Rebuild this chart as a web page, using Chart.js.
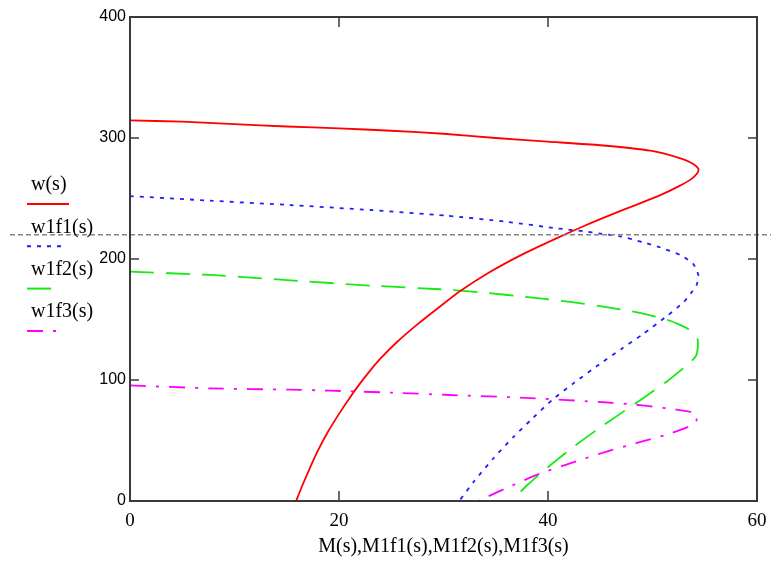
<!DOCTYPE html>
<html>
<head>
<meta charset="utf-8">
<script src="https://cdn.jsdelivr.net/npm/chart.js@4"></script>
<style>
  html, body { margin: 0; padding: 0; background: #fff; }
  #chart { display: block; }
</style>
</head>
<body>
<canvas id="chart" width="771" height="563"></canvas>
<script>
const seriesNames = ["w(s)", "w1f1(s)", "w1f2(s)", "w1f3(s)"];
const axisTitleX = "M(s),M1f1(s),M1f2(s),M1f3(s)";
const xTicks = [0, 20, 40, 60];
const yTicks = [0, 100, 200, 300, 400];
const markerW = 220;

// w(s) vs M(s)
const wM = [0, 5, 10, 15, 20, 25, 30, 35, 40, 45, 49.8, 52.9, 53.9, 54.4, 54.3, 53.7, 52.5, 50.8, 48.5, 46, 43.5, 40.8, 37.6, 34.4, 31.6, 29.7, 27.5, 25.5, 24, 23, 22, 21, 20, 19, 18, 17.2, 16.5, 15.9];
const wW = [314.5, 313.5, 311.5, 309.5, 308, 306, 303.5, 300, 297, 294, 289.5, 282.6, 278.5, 274.4, 271, 266, 260, 253, 245, 236.5, 227.5, 217, 204, 189, 173.5, 161, 146, 131, 118, 108, 97, 85, 72, 58, 42, 27, 13, 0];

// w1f1(s) vs M1f1(s)
const f1M = [0, 7.7, 15.3, 23, 30.3, 36, 40.8, 43.4, 45, 46.9, 49.1, 50.7, 52.8, 53.9, 54.4, 54.2, 53.7, 53, 51.4, 49.1, 47, 45, 42.4, 40.4, 38.6, 36.7, 34.8, 32.9, 31.5];
const f1W = [252, 248.2, 244.6, 240.5, 235.8, 230.8, 225.4, 222.9, 220.9, 218.7, 213.8, 209.7, 202.7, 195.9, 186.2, 178, 172, 164.5, 153, 138, 125.5, 113.5, 97, 83.5, 69, 53, 35.5, 16, 0];

// w1f2(s) vs M1f2(s)
const f2M = [0, 7.7, 16, 23, 29.7, 33.5, 38.3, 42.1, 45, 48.2, 51.4, 53.3, 54.3, 54.3, 54.1, 53.2, 51.4, 49.1, 46.9, 44.7, 42.4, 40, 38, 36.5];
const f2W = [189.5, 186.8, 182, 178, 175, 172.5, 168.3, 164.5, 161, 156.5, 149.8, 142.7, 133.9, 124.2, 119, 111.5, 99, 85, 72, 59, 44.5, 28, 13, 0];

// w1f3(s) vs M1f3(s)
const f3M = [0, 7.7, 15.3, 19.1, 25.8, 30.6, 38.3, 45.3, 48.8, 52.3, 54.1, 54.2, 53.6, 51.4, 48.5, 45.3, 42.4, 39.2, 36.5, 33.3];
const f3W = [95.5, 93.1, 92, 91.2, 89.3, 87.6, 85.1, 81.6, 79.3, 75.5, 72.7, 66.4, 62, 55, 48, 40, 32, 22.5, 12.5, 0];

const toPoints = (ms, ws) => ms.map((m, i) => ({ x: m, y: ws[i] }));

const styles = [
    { color: "rgb(255,0,0)", dash: [] },
    { color: "rgb(30,30,255)", dash: [4, 6] },
    { color: "rgb(20,235,20)", dash: [24, 12] },
    { color: "rgb(255,0,255)", dash: [16, 10, 3, 10] }
];

const seriesData = [toPoints(wM, wW), toPoints(f1M, f1W), toPoints(f2M, f2W), toPoints(f3M, f3W)];

const datasets = seriesData.map((pts, i) => ({
    label: seriesNames[i],
    data: pts,
    showLine: true,
    borderColor: styles[i].color,
    borderDash: styles[i].dash,
    borderWidth: 1.8,
    pointRadius: 0,
    tension: 0.2,
    fill: false
}));

const framePlugin = {
    id: "frame",
    afterDatasetsDraw(chart) {
        const { ctx, chartArea: a, scales: { x, y } } = chart;
        ctx.save();

        // horizontal marker line, runs across the whole picture
        const my = y.getPixelForValue(markerW);
        ctx.strokeStyle = "#858585";
        ctx.lineWidth = 1.5;
        ctx.setLineDash([5, 3]);
        ctx.beginPath();
        ctx.moveTo(10, my);
        ctx.lineTo(chart.width, my);
        ctx.stroke();
        ctx.setLineDash([]);

        // box
        ctx.strokeStyle = "#3a3a3a";
        ctx.lineWidth = 2;
        ctx.strokeRect(a.left, a.top, a.right - a.left, a.bottom - a.top);

        // inward tick marks
        ctx.lineWidth = 1.5;
        ctx.beginPath();
        xTicks.forEach(v => {
            const px = x.getPixelForValue(v);
            ctx.moveTo(px, a.bottom); ctx.lineTo(px, a.bottom - 10);
            ctx.moveTo(px, a.top); ctx.lineTo(px, a.top + 10);
        });
        yTicks.forEach(v => {
            const py = y.getPixelForValue(v);
            ctx.moveTo(a.left, py); ctx.lineTo(a.left + 9, py);
            ctx.moveTo(a.right, py); ctx.lineTo(a.right - 9, py);
        });
        ctx.stroke();

        // legend on the left
        ctx.font = "20px 'Liberation Serif'";
        ctx.textBaseline = "middle";
        ctx.textAlign = "left";
        chart.data.datasets.forEach((ds, i) => {
            const ty = 185 + i * 42.3;
            ctx.fillStyle = "#000";
            ctx.fillText(ds.label, 31, ty);
            ctx.strokeStyle = ds.borderColor;
            ctx.lineWidth = 2;
            ctx.setLineDash(ds.borderDash);
            ctx.beginPath();
            ctx.moveTo(27, ty + 19);
            ctx.lineTo(i === 0 ? 69 : 62, ty + 19);
            ctx.stroke();
        });
        ctx.restore();
    }
};

const chart = new Chart(document.getElementById("chart").getContext("2d"), {
    type: "scatter",
    data: { datasets: datasets },
    options: {
        responsive: false,
        animation: false,
        layout: { padding: { top: 17, right: 14, left: 0, bottom: 0 } },
        plugins: { legend: { display: false }, tooltip: { enabled: false } },
        scales: {
            x: {
                type: "linear",
                min: 0,
                max: 60,
                afterBuildTicks: s => { s.ticks = xTicks.map(v => ({ value: v })); },
                afterFit: s => { s.height = 62; s.paddingLeft = 0; s.paddingRight = 0; },
                grid: { display: false, drawTicks: false },
                border: { display: false },
                ticks: { padding: 9, color: "#000", font: { family: "'Liberation Serif'", size: 19 } },
                title: {
                    display: true,
                    text: axisTitleX,
                    color: "#000",
                    font: { family: "'Liberation Serif'", size: 20 },
                    padding: { top: 4, bottom: 4 }
                }
            },
            y: {
                type: "linear",
                min: 0,
                max: 400,
                afterBuildTicks: s => { s.ticks = yTicks.map(v => ({ value: v })); },
                afterFit: s => { s.width = 130; s.paddingTop = 0; s.paddingBottom = 0; },
                grid: { display: false, drawTicks: false },
                border: { display: false },
                ticks: { padding: 4, color: "#000", font: { family: "'Liberation Sans'", size: 16 } }
            }
        }
    },
    plugins: [framePlugin]
});
</script>
</body>
</html>
